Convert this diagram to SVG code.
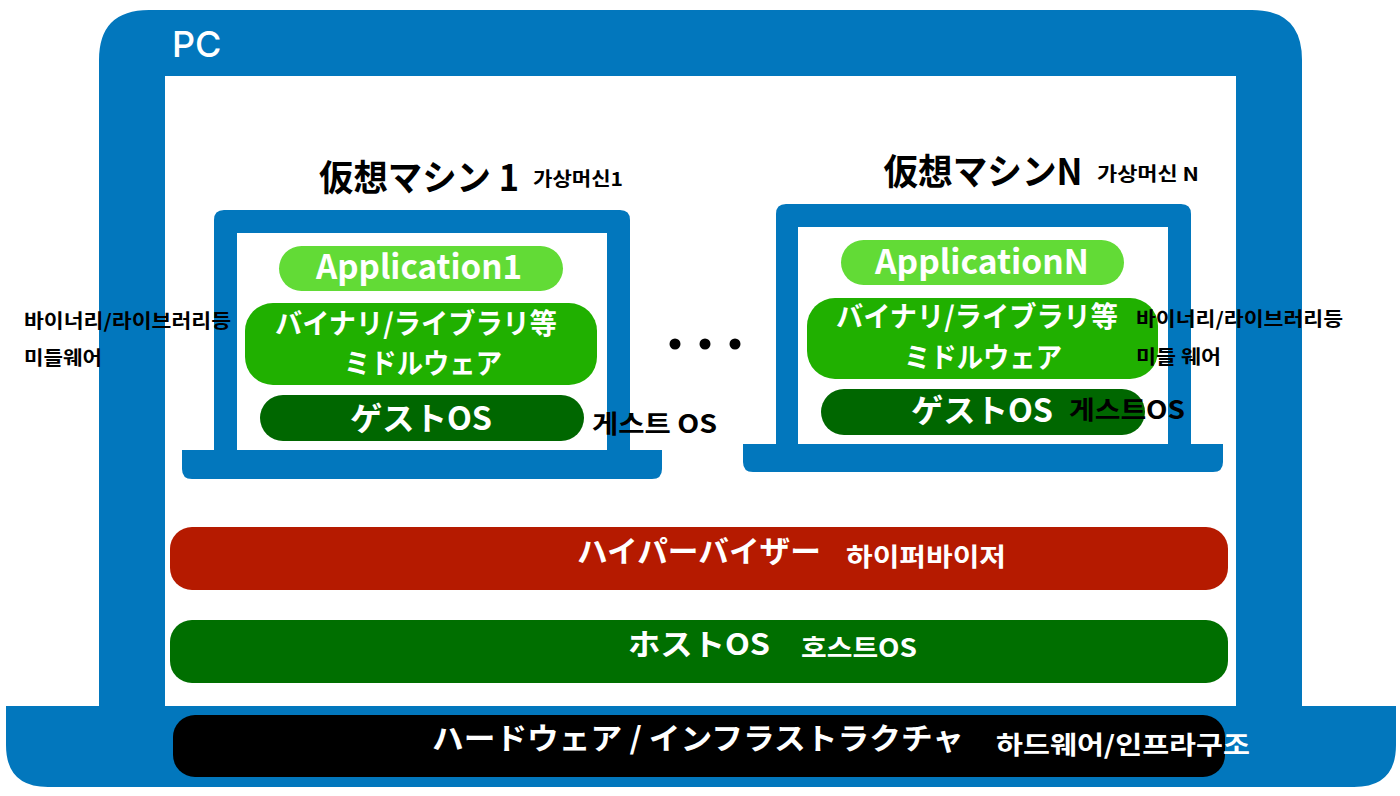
<svg xmlns="http://www.w3.org/2000/svg" width="1400" height="796" viewBox="0 0 1400 796">
<style>
.frame{fill:#0277bd}
.in{fill:#fff}
.jp{font-family:"Noto Sans CJK JP","Noto Sans",sans-serif;font-weight:700;text-anchor:middle}
.kr{font-family:"Noto Sans CJK KR","Noto Sans",sans-serif;font-weight:700}
.w{fill:#fff}
.k{fill:#000}
.app{fill:#62db36}
.mid{fill:#20b000}
.guest{fill:#006700}
</style>
<rect width="1400" height="796" fill="#fff"/>
<g id="pc">
<path class="frame" d="M99 706V60Q99 10 149 10H1252Q1302 10 1302 60V706H1396V745Q1396 787 1354 787H48Q6 787 6 745V706Z"/>
<rect class="in" x="165" y="76" width="1071" height="630"/>
<text x="172" y="57" font-family="Inter,'Liberation Sans',sans-serif" font-size="36" font-weight="500" fill="#fff">PC</text>
</g>
<g id="vm1">
<path class="frame" d="M182 450H214V220Q214 210 224 210H620Q630 210 630 220V450H662V469Q662 479 652 479H192Q182 479 182 469Z"/>
<rect class="in" x="237" y="233" width="370" height="217"/>
<text class="jp k" x="419" y="191" font-size="36" textLength="200" lengthAdjust="spacingAndGlyphs">仮想マシン 1</text>
<rect class="app" x="279" y="246" width="284" height="45" rx="22.5"/>
<text class="jp w" x="419" y="279" font-size="33" font-family="Inter" textLength="206" lengthAdjust="spacingAndGlyphs">Application1</text>
<rect class="mid" x="245" y="303" width="352" height="82" rx="28"/>
<text class="jp w" x="416" y="334" font-size="28" textLength="282" lengthAdjust="spacingAndGlyphs">バイナリ/ライブラリ等</text>
<text class="jp w" x="423" y="374" font-size="28" textLength="158" lengthAdjust="spacingAndGlyphs">ミドルウェア</text>
<rect class="guest" x="260" y="395" width="324" height="46" rx="23"/>
<text class="jp w" x="421" y="430" font-size="32" textLength="142" lengthAdjust="spacingAndGlyphs">ゲストOS</text>
</g>
<g id="vmN">
<path class="frame" d="M743 444H776V214Q776 204 786 204H1181Q1191 204 1191 214V444H1223V462Q1223 472 1213 472H753Q743 472 743 462Z"/>
<rect class="in" x="798" y="227" width="370" height="217"/>
<text class="jp k" x="983" y="185" font-size="36" textLength="199" lengthAdjust="spacingAndGlyphs">仮想マシンN</text>
<rect class="app" x="841" y="240" width="283" height="45" rx="22.5"/>
<text class="jp w" x="982" y="274" font-size="33" font-family="Inter" textLength="214" lengthAdjust="spacingAndGlyphs">ApplicationN</text>
<rect class="mid" x="807" y="298" width="351" height="81" rx="28"/>
<text class="jp w" x="977" y="327" font-size="28" textLength="282" lengthAdjust="spacingAndGlyphs">バイナリ/ライブラリ等</text>
<text class="jp w" x="983" y="368" font-size="28" textLength="158" lengthAdjust="spacingAndGlyphs">ミドルウェア</text>
<rect class="guest" x="821" y="389" width="324" height="46" rx="23"/>
<text class="jp w" x="982" y="422" font-size="32" textLength="142" lengthAdjust="spacingAndGlyphs">ゲストOS</text>
</g>
<g id="dots" fill="#000">
<circle cx="675" cy="344" r="5.5"/><circle cx="705" cy="344" r="5.5"/><circle cx="735" cy="344" r="5.5"/>
</g>
<g id="hypervisor">
<rect x="170" y="527" width="1058" height="63" rx="22" fill="#b51a00"/>
<text class="jp w" x="699" y="562" font-size="30" textLength="244" lengthAdjust="spacingAndGlyphs">ハイパーバイザー</text>
<text class="kr w" x="846" y="566" font-size="25" textLength="160" lengthAdjust="spacingAndGlyphs">하이퍼바이저</text>
</g>
<g id="hostos">
<rect x="170" y="620" width="1058" height="63" rx="22" fill="#006f00"/>
<text class="jp w" x="699" y="655" font-size="30" textLength="142" lengthAdjust="spacingAndGlyphs">ホストOS</text>
<text class="kr w" x="801" y="657" font-size="25" textLength="116" lengthAdjust="spacingAndGlyphs">호스트OS</text>
</g>
<g id="hardware">
<rect x="173" y="715" width="1052" height="62" rx="22" fill="#000"/>
<text class="jp w" x="698" y="749" font-size="30" textLength="532" lengthAdjust="spacingAndGlyphs">ハードウェア / インフラストラクチャ</text>
<text class="kr w" x="996" y="754" font-size="25" textLength="254" lengthAdjust="spacingAndGlyphs">하드웨어/인프라구조</text>
</g>
<g id="labels">
<text class="kr k" x="533" y="186" font-size="19" textLength="90" lengthAdjust="spacingAndGlyphs">가상머신1</text>
<text class="kr k" x="1097" y="181" font-size="19" textLength="102" lengthAdjust="spacingAndGlyphs">가상머신 N</text>
<text class="kr k" x="24" y="328" font-size="19" textLength="207" lengthAdjust="spacingAndGlyphs">바이너리/라이브러리등</text>
<text class="kr k" x="24" y="365" font-size="19" textLength="78" lengthAdjust="spacingAndGlyphs">미들웨어</text>
<text class="kr k" x="1136" y="326" font-size="19" textLength="207" lengthAdjust="spacingAndGlyphs">바이너리/라이브러리등</text>
<text class="kr k" x="1136" y="364" font-size="19" textLength="85" lengthAdjust="spacingAndGlyphs">미들 웨어</text>
<text class="kr k" x="592" y="433" font-size="25" textLength="125" lengthAdjust="spacingAndGlyphs">게스트 OS</text>
<text class="kr k" x="1069" y="419" font-size="25" textLength="116" lengthAdjust="spacingAndGlyphs">게스트OS</text>
</g>
</svg>
